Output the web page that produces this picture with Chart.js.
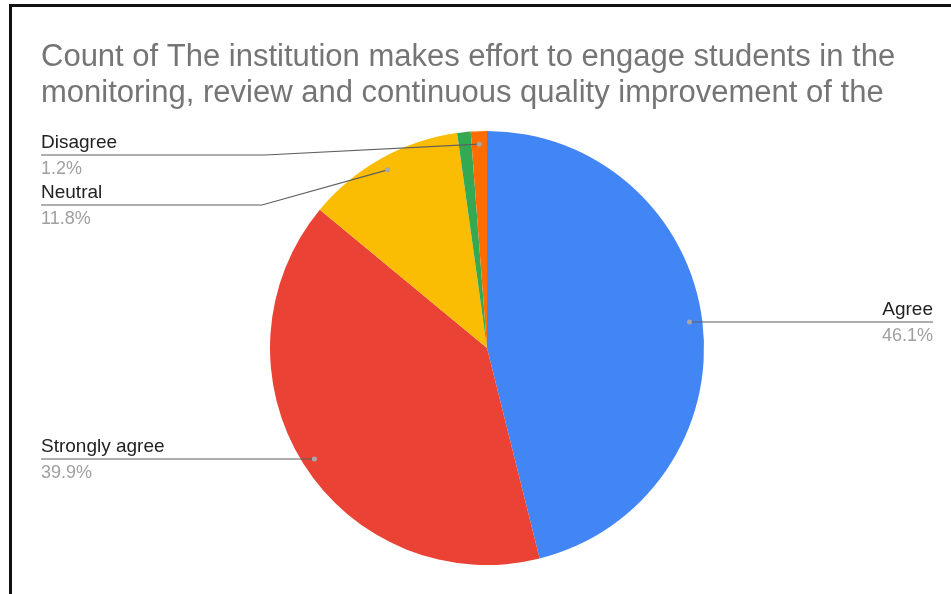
<!DOCTYPE html>
<html>
<head>
<meta charset="utf-8">
<script src="https://cdn.jsdelivr.net/npm/chart.js@4/dist/chart.umd.min.js"></script>
<style>
  html, body { margin: 0; padding: 0; background: #fff; }
  #wrap { position: relative; width: 951px; height: 594px; overflow: hidden; }
  #frame { position: absolute; left: 9px; top: 4px; width: 960px; height: 600px;
           border-top: 3px solid #111; border-left: 3px solid #111; pointer-events: none; }
  canvas { position: absolute; left: 0; top: 0; }
</style>
</head>
<body>
<div id="wrap">
  <canvas id="pie" width="951" height="594"></canvas>
  <div id="frame"></div>
</div>
<script>
/* data */
const titleLines = [
  'Count of The institution makes effort to engage students in the',
  'monitoring, review and continuous quality improvement of the'
];
const categories = ['Agree', 'Strongly agree', 'Neutral', 'Strongly disagree', 'Disagree'];
const shares = [46.1, 39.9, 11.8, 1.0, 1.2];
const sliceColors = ['#4285f4', '#ea4335', '#fbbc04', '#34a853', '#ff6d01'];
const shownLabels = ['Agree', 'Strongly agree', 'Neutral', 'Disagree'];

// callout placement (layout only)
const callouts = {
  'Agree':          { side: 'right', lineY: 322, endX: 933 },
  'Strongly agree': { side: 'left',  lineY: 459, startX: 41, elbowX: null },
  'Neutral':        { side: 'left',  lineY: 205, startX: 41, elbowX: 262 },
  'Disagree':       { side: 'left',  lineY: 155, startX: 41, elbowX: 265 }
};

const FONT = '"Liberation Sans", Arial, sans-serif';

// draws the title and the leader-line labels
const calloutPlugin = {
  id: 'callouts',
  afterDraw(chart) {
    const ctx = chart.ctx;
    ctx.save();

    // title
    ctx.fillStyle = '#757575';
    ctx.font = '31px ' + FONT;
    ctx.textAlign = 'left';
    ctx.textBaseline = 'alphabetic';
    ctx.fillText(titleLines[0], 41, 66);
    ctx.fillText(titleLines[1], 41, 102);

    const meta = chart.getDatasetMeta(0);
    const total = shares.reduce((a, b) => a + b, 0);

    shownLabels.forEach(name => {
      const i = categories.indexOf(name);
      const arc = meta.data[i];
      const p = arc.getProps(['x', 'y', 'startAngle', 'endAngle', 'outerRadius'], true);
      const mid = (p.startAngle + p.endAngle) / 2;
      const r = p.outerRadius * 0.94;
      const dx = p.x + Math.cos(mid) * r;
      const dy = p.y + Math.sin(mid) * r;
      const c = callouts[name];
      const pct = (shares[i] / total * 100).toFixed(1) + '%';

      ctx.strokeStyle = '#5f5f5f';
      ctx.lineWidth = 1.2;
      ctx.beginPath();
      if (c.side === 'right') {
        ctx.moveTo(dx, c.lineY);
        ctx.lineTo(c.endX, c.lineY);
      } else {
        ctx.moveTo(c.startX, c.lineY);
        if (c.elbowX !== null) {
          ctx.lineTo(c.elbowX, c.lineY);
          ctx.lineTo(dx, dy);
        } else {
          ctx.lineTo(dx, c.lineY);
        }
      }
      ctx.stroke();

      // dot on the slice
      ctx.fillStyle = '#a8a8a8';
      ctx.beginPath();
      ctx.arc(dx, c.side === 'right' || c.elbowX === null ? c.lineY : dy, 2.5, 0, Math.PI * 2);
      ctx.fill();

      ctx.textAlign = c.side === 'right' ? 'right' : 'left';
      const tx = c.side === 'right' ? c.endX : c.startX;
      ctx.font = '19px ' + FONT;
      ctx.fillStyle = '#222222';
      ctx.fillText(name, tx, c.lineY - 7);
      ctx.font = '18px ' + FONT;
      ctx.fillStyle = '#a0a0a0';
      ctx.fillText(pct, tx, c.lineY + 19);
    });

    ctx.restore();
  }
};

new Chart(document.getElementById('pie'), {
  type: 'pie',
  data: {
    labels: categories,
    datasets: [{
      data: shares,
      backgroundColor: sliceColors,
      borderWidth: 0
    }]
  },
  options: {
    responsive: false,
    animation: false,
    layout: { padding: { top: 131, bottom: 29, left: 270, right: 247 } },
    plugins: {
      legend: { display: false },
      tooltip: { enabled: false },
      title: { display: false }
    }
  },
  plugins: [calloutPlugin]
});
</script>
</body>
</html>
